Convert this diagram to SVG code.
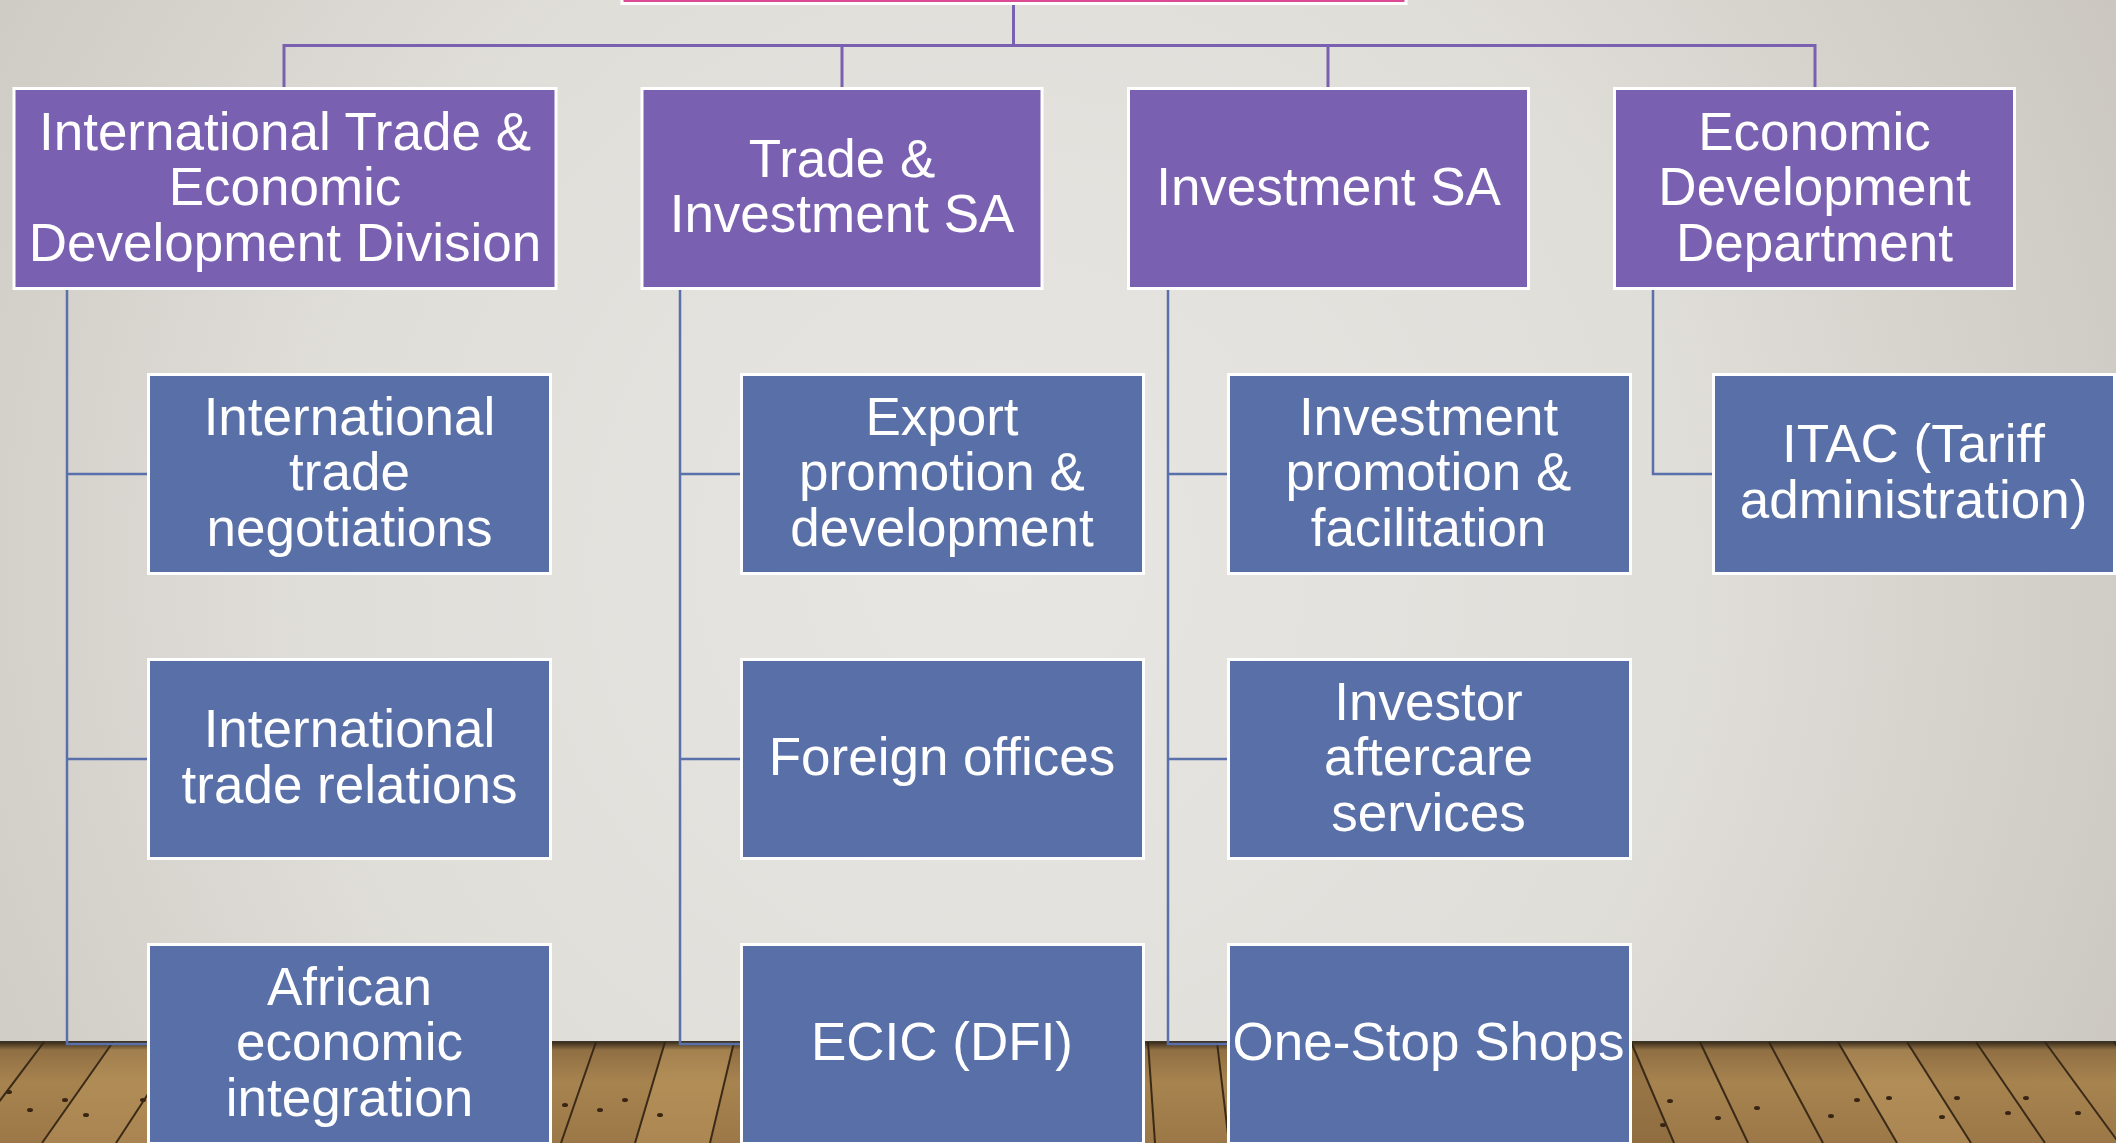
<svg xmlns="http://www.w3.org/2000/svg" width="2116" height="1143" viewBox="0 0 2116 1143">
<defs>
<radialGradient id="wall" cx="1000" cy="560" r="1250" gradientUnits="userSpaceOnUse">
<stop offset="0" stop-color="#e7e6e2"/>
<stop offset="0.55" stop-color="#e0ded9"/>
<stop offset="1" stop-color="#cbc7c0"/>
</radialGradient>
<linearGradient id="floor" x1="0" y1="1042" x2="0" y2="1143" gradientUnits="userSpaceOnUse">
<stop offset="0" stop-color="#8a6a40"/>
<stop offset="0.4" stop-color="#a7834f"/>
<stop offset="1" stop-color="#9c7848"/>
</linearGradient>
<linearGradient id="shadow" x1="0" y1="1041" x2="0" y2="1050" gradientUnits="userSpaceOnUse">
<stop offset="0" stop-color="#2b2216" stop-opacity="0.95"/>
<stop offset="1" stop-color="#2b2216" stop-opacity="0"/>
</linearGradient>
<style>
.parent{fill:#7a60b0;stroke:#ffffff;stroke-width:3}
.child{fill:#586fa7;stroke:#ffffff;stroke-width:3}
.root{fill:#dc4a93;stroke:#ffffff;stroke-width:3}
.lbl{font-family:"Liberation Sans",Arial,sans-serif;font-size:53px;fill:#ffffff;text-anchor:middle}
.top{fill:none;stroke:#7a60b0;stroke-width:3}
.sub{fill:none;stroke:#5a70aa;stroke-width:2.5}
.plank{stroke:#3a2a17;stroke-width:2;fill:none}
.nail{fill:#3a2414}
</style>
</defs>

<g id="background">
<rect x="0" y="0" width="2116" height="1143" fill="url(#wall)"/>
<rect x="0" y="1042" width="2116" height="101" fill="url(#floor)"/>
<g opacity="0.35">
<polygon points="113,1042 182,1042 177,1143 42,1143" fill="#c39d63"/>
<polygon points="389,1042 458,1042 432,1143 340,1143" fill="#7d5e36"/>
<polygon points="665,1042 734,1042 710,1143 636,1143" fill="#c8a468"/>
<polygon points="941,1042 1010,1042 1006,1143 932,1143" fill="#80603a"/>
<polygon points="1286,1042 1355,1042 1374,1143 1300,1143" fill="#c9a56a"/>
<polygon points="1562,1042 1631,1042 1674,1143 1600,1143" fill="#7c5c35"/>
<polygon points="1838,1042 1907,1042 1970,1143 1896,1143" fill="#c6a166"/>
</g>
<g class="plank">
<line x1="44" y1="1042" x2="-32" y2="1143"/>
<line x1="113" y1="1042" x2="42" y2="1143"/>
<line x1="182" y1="1042" x2="116" y2="1143"/>
<line x1="251" y1="1042" x2="190" y2="1143"/>
<line x1="320" y1="1042" x2="264" y2="1143"/>
<line x1="389" y1="1042" x2="338" y2="1143"/>
<line x1="458" y1="1042" x2="413" y2="1143"/>
<line x1="527" y1="1042" x2="487" y2="1143"/>
<line x1="596" y1="1042" x2="561" y2="1143"/>
<line x1="665" y1="1042" x2="635" y2="1143"/>
<line x1="734" y1="1042" x2="710" y2="1143"/>
<line x1="803" y1="1042" x2="784" y2="1143"/>
<line x1="872" y1="1042" x2="858" y2="1143"/>
<line x1="941" y1="1042" x2="932" y2="1143"/>
<line x1="1010" y1="1042" x2="1006" y2="1143"/>
<line x1="1079" y1="1042" x2="1081" y2="1143"/>
<line x1="1148" y1="1042" x2="1155" y2="1143"/>
<line x1="1217" y1="1042" x2="1229" y2="1143"/>
<line x1="1286" y1="1042" x2="1303" y2="1143"/>
<line x1="1355" y1="1042" x2="1377" y2="1143"/>
<line x1="1424" y1="1042" x2="1452" y2="1143"/>
<line x1="1493" y1="1042" x2="1526" y2="1143"/>
<line x1="1562" y1="1042" x2="1600" y2="1143"/>
<line x1="1631" y1="1042" x2="1674" y2="1143"/>
<line x1="1700" y1="1042" x2="1748" y2="1143"/>
<line x1="1769" y1="1042" x2="1823" y2="1143"/>
<line x1="1838" y1="1042" x2="1897" y2="1143"/>
<line x1="1907" y1="1042" x2="1971" y2="1143"/>
<line x1="1976" y1="1042" x2="2045" y2="1143"/>
<line x1="2045" y1="1042" x2="2119" y2="1143"/>
<line x1="2114" y1="1042" x2="2193" y2="1143"/>
</g>
<g class="nail">
<ellipse cx="9" cy="1092" rx="3" ry="2"/>
<ellipse cx="30" cy="1110" rx="3" ry="2"/>
<ellipse cx="65" cy="1100" rx="3" ry="2"/>
<ellipse cx="86" cy="1115" rx="3" ry="2"/>
<ellipse cx="143" cy="1100" rx="3" ry="2"/>
<ellipse cx="565" cy="1105" rx="3" ry="2"/>
<ellipse cx="600" cy="1110" rx="3" ry="2"/>
<ellipse cx="625" cy="1100" rx="3" ry="2"/>
<ellipse cx="660" cy="1115" rx="3" ry="2"/>
<ellipse cx="1663" cy="1125" rx="3" ry="2"/>
<ellipse cx="1670" cy="1101" rx="3" ry="2"/>
<ellipse cx="1718" cy="1118" rx="3" ry="2"/>
<ellipse cx="1757" cy="1108" rx="3" ry="2"/>
<ellipse cx="1831" cy="1116" rx="3" ry="2"/>
<ellipse cx="1857" cy="1100" rx="3" ry="2"/>
<ellipse cx="1889" cy="1098" rx="3" ry="2"/>
<ellipse cx="1942" cy="1117" rx="3" ry="2"/>
<ellipse cx="1957" cy="1098" rx="3" ry="2"/>
<ellipse cx="2008" cy="1113" rx="3" ry="2"/>
<ellipse cx="2026" cy="1098" rx="3" ry="2"/>
<ellipse cx="2078" cy="1113" rx="3" ry="2"/>
</g>
<rect x="0" y="1041" width="2116" height="9" fill="url(#shadow)"/>
</g>

<g id="connectors">
<path class="top" d="M1013.5,5 V45.5 M284,88 V45.5 H1815 V88 M842,45.5 V88 M1328,45.5 V88"/>
<path class="sub" d="M67,290 V1044 H148 M67,474 H148 M67,759 H148"/>
<path class="sub" d="M680,290 V1044 H741 M680,474 H741 M680,759 H741"/>
<path class="sub" d="M1168,290 V1044 H1228 M1168,474 H1228 M1168,759 H1228"/>
<path class="sub" d="M1653,290 V474 H1713"/>
</g>

<g id="node-root">
<rect class="root" x="622" y="-30" width="784" height="33.5"/>
</g>

<g id="node-itedd">
<rect class="parent" x="14" y="88.5" width="542" height="200"/>
<text class="lbl"><tspan x="285" y="149.5">International Trade &amp;</tspan><tspan x="285" y="205">Economic</tspan><tspan x="285" y="260.5">Development Division</tspan></text>
</g>
<g id="node-tisa">
<rect class="parent" x="642" y="88.5" width="400" height="200"/>
<text class="lbl"><tspan x="842" y="176.75">Trade &amp;</tspan><tspan x="842" y="232.25">Investment SA</tspan></text>
</g>
<g id="node-isa">
<rect class="parent" x="1128.5" y="88.5" width="400" height="200"/>
<text class="lbl" x="1328.5" y="204.5">Investment SA</text>
</g>
<g id="node-edd">
<rect class="parent" x="1614.5" y="88.5" width="400" height="200"/>
<text class="lbl"><tspan x="1814.5" y="149.5">Economic</tspan><tspan x="1814.5" y="205">Development</tspan><tspan x="1814.5" y="260.5">Department</tspan></text>
</g>

<g id="node-itn">
<rect class="child" x="148.5" y="374.5" width="402" height="199"/>
<text class="lbl"><tspan x="349.5" y="434.5">International</tspan><tspan x="349.5" y="490">trade</tspan><tspan x="349.5" y="545.5">negotiations</tspan></text>
</g>
<g id="node-itr">
<rect class="child" x="148.5" y="659.5" width="402" height="199"/>
<text class="lbl"><tspan x="349.5" y="747.25">International</tspan><tspan x="349.5" y="802.75">trade relations</tspan></text>
</g>
<g id="node-aei">
<rect class="child" x="148.5" y="944.5" width="402" height="199"/>
<text class="lbl"><tspan x="349.5" y="1004.5">African</tspan><tspan x="349.5" y="1060">economic</tspan><tspan x="349.5" y="1115.5">integration</tspan></text>
</g>

<g id="node-epd">
<rect class="child" x="741.5" y="374.5" width="402" height="199"/>
<text class="lbl"><tspan x="942" y="434.5">Export</tspan><tspan x="942" y="490">promotion &amp;</tspan><tspan x="942" y="545.5">development</tspan></text>
</g>
<g id="node-fo">
<rect class="child" x="741.5" y="659.5" width="402" height="199"/>
<text class="lbl" x="942" y="775">Foreign offices</text>
</g>
<g id="node-ecic">
<rect class="child" x="741.5" y="944.5" width="402" height="199"/>
<text class="lbl" x="942" y="1060">ECIC (DFI)</text>
</g>

<g id="node-ipf">
<rect class="child" x="1228.5" y="374.5" width="402" height="199"/>
<text class="lbl"><tspan x="1428.5" y="434.5">Investment</tspan><tspan x="1428.5" y="490">promotion &amp;</tspan><tspan x="1428.5" y="545.5">facilitation</tspan></text>
</g>
<g id="node-ias">
<rect class="child" x="1228.5" y="659.5" width="402" height="199"/>
<text class="lbl"><tspan x="1428.5" y="719.5">Investor</tspan><tspan x="1428.5" y="775">aftercare</tspan><tspan x="1428.5" y="830.5">services</tspan></text>
</g>
<g id="node-oss">
<rect class="child" x="1228.5" y="944.5" width="402" height="199"/>
<text class="lbl" x="1428.5" y="1060">One-Stop Shops</text>
</g>

<g id="node-itac">
<rect class="child" x="1713.5" y="374.5" width="401" height="199"/>
<text class="lbl"><tspan x="1913.5" y="462.25">ITAC (Tariff</tspan><tspan x="1913.5" y="517.75">administration)</tspan></text>
</g>
</svg>
